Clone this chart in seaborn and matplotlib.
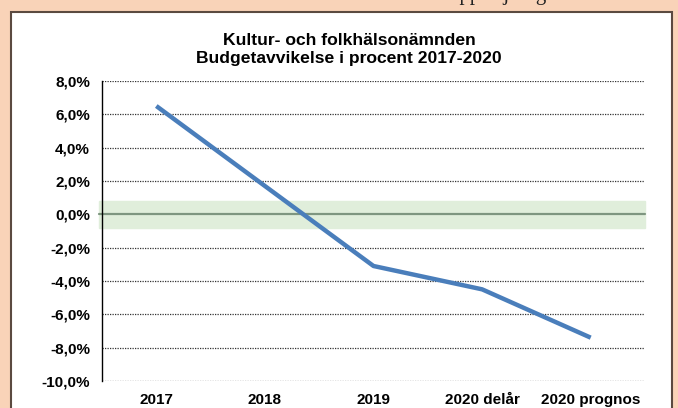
import matplotlib
matplotlib.use("Agg")
import matplotlib.pyplot as plt
import matplotlib.patches as mpatches
import pandas as pd
import seaborn as sns

# chart values
perioder = ["2017", "2018", "2019", "2020 delår", "2020 prognos"]
avvikelse = [6.5, 1.7, -3.1, -4.5, -7.4]
y_ticks = [8, 6, 4, 2, 0, -2, -4, -6, -8, -10]
band_limit = 0.8

df = pd.DataFrame({"period": perioder, "avvikelse": avvikelse})

sns.set_theme(style="white")
plt.rcParams["font.family"] = ["Liberation Sans", "DejaVu Sans"]

peach = "#F9D3B8"
W, H = 678, 408
fig = plt.figure(figsize=(W / 100, H / 100), dpi=100, facecolor=peach)

# white chart box with dark frame
box = mpatches.Rectangle((11 / W, -0.02), (672 - 11) / W, 1 - 12 / H + 0.02,
                         transform=fig.transFigure, facecolor="white",
                         edgecolor="#5b4a40", linewidth=1.5, zorder=-5)
fig.patches.append(box)

# cut-off text from the page above the chart
fig.text(450 / W, 1.0, "uppföljning", family="Liberation Serif", fontsize=15,
         color="#222222", ha="left", va="baseline")

ax = fig.add_axes([102 / W, 1 - 381 / H, (645 - 102) / W, (381 - 81) / H])
ax.set_zorder(2)
ax.set_facecolor("none")

# green target band and zero line
ax.axhspan(-band_limit, band_limit, xmin=-0.006, xmax=1.0, color="#E0EEDB",
           zorder=0, clip_on=False)
ax.axhline(0, xmin=-0.006, xmax=1.0, color="#7E9680", linewidth=1.6, zorder=1,
           clip_on=False)

for t in y_ticks:
    if t != 0:
        ax.axhline(t, color="#333333", linewidth=0.9, linestyle=(0, (1, 1)), zorder=1)

sns.lineplot(data=df, x="period", y="avvikelse", color="#4A7EBB", linewidth=3.2,
             ax=ax, zorder=3, solid_capstyle="butt")

ax.set_xlim(-0.5, len(perioder) - 0.5)
ax.set_ylim(-10, 8)
ax.set_yticks(y_ticks)
ax.set_yticklabels([f"{t:.1f}%".replace(".", ",") for t in y_ticks],
                   fontweight="bold", fontsize=11)
ax.set_xticks(range(len(perioder)))
ax.set_xticklabels(perioder, fontweight="bold", fontsize=11, va="baseline")
ax.tick_params(axis="y", length=0, pad=8.6, colors="black")
ax.tick_params(axis="x", length=0, pad=16.5, colors="black")
ax.set_xlabel("")
ax.set_ylabel("")

for side in ["top", "right", "bottom"]:
    ax.spines[side].set_visible(False)
ax.spines["left"].set_color("black")
ax.spines["left"].set_linewidth(1.0)

fig.text(349 / W, 1 - 45 / H, "Kultur- och folkhälsonämnden",
         ha="center", va="baseline", fontsize=12.6, fontweight="bold", color="black")
fig.text(349 / W, 1 - 63 / H, "Budgetavvikelse i procent 2017-2020",
         ha="center", va="baseline", fontsize=12.6, fontweight="bold", color="black")

fig.savefig("out.png", dpi=100, facecolor=peach)
